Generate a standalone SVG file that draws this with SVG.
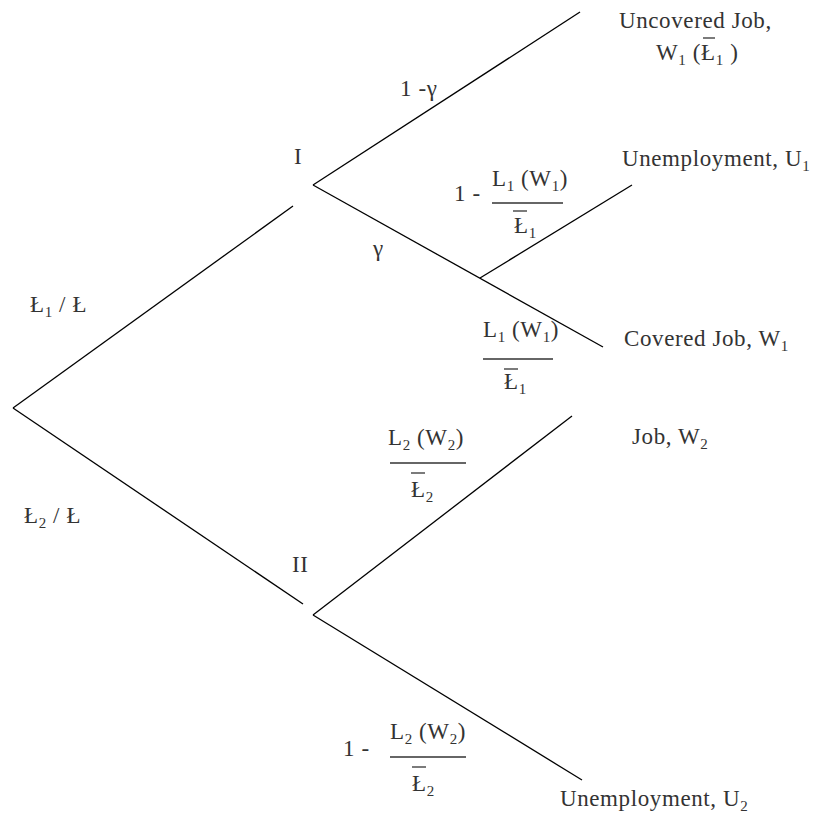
<svg xmlns="http://www.w3.org/2000/svg" width="821" height="819" viewBox="0 0 821 819">
<style>
text{font-family:"Liberation Serif","DejaVu Serif","Times New Roman",serif;font-size:23px;fill:#333;letter-spacing:0.6px}
.s{font-size:15px}
.e{stroke:#000;stroke-width:1.3;fill:none}
.b{stroke:#333;stroke-width:1.3}
</style>
<rect width="821" height="819" fill="#fff"/>
<g id="connectors">
<line class="e" x1="13" y1="408" x2="293" y2="206"/>
<line class="e" x1="13" y1="408" x2="303" y2="604"/>
<line class="e" x1="313" y1="185" x2="580" y2="12"/>
<line class="e" x1="313" y1="185" x2="603" y2="347"/>
<line class="e" x1="480" y1="278" x2="632" y2="185"/>
<line class="e" x1="313" y1="615" x2="572" y2="416"/>
<line class="e" x1="313" y1="615" x2="582" y2="780"/>
</g>
<g id="node-I"><text x="294" y="164">I</text></g>
<g id="node-II"><text x="292" y="572">II</text></g>
<g id="leaf-uncovered">
<text x="619" y="28">Uncovered Job,</text>
<text x="656" y="60">W<tspan class="s" dy="5">1</tspan><tspan dy="-5"> (Ł</tspan><tspan class="s" dy="5">1</tspan><tspan dy="-5">  )</tspan></text>
<line class="b" x1="703" y1="38" x2="715" y2="38"/>
</g>
<g id="leaf-unemp1"><text x="622" y="166">Unemployment, U<tspan class="s" dy="5">1</tspan></text></g>
<g id="leaf-covered"><text x="624" y="346">Covered Job, W<tspan class="s" dy="5">1</tspan></text></g>
<g id="leaf-job2"><text x="632" y="444">Job, W<tspan class="s" dy="5">2</tspan></text></g>
<g id="leaf-unemp2"><text x="560" y="806">Unemployment, U<tspan class="s" dy="5">2</tspan></text></g>
<g id="label-1-gamma"><text x="400" y="96">1 -γ</text></g>
<g id="label-gamma"><text x="373" y="256">γ</text></g>
<g id="label-L1L"><text x="30" y="312">Ł<tspan class="s" dy="5">1</tspan><tspan dy="-5"> / Ł</tspan></text></g>
<g id="label-L2L"><text x="24" y="523">Ł<tspan class="s" dy="5">2</tspan><tspan dy="-5"> / Ł</tspan></text></g>
<g id="label-unemp1-prob">
<text x="454" y="201">1 -</text>
<text x="492" y="186">L<tspan class="s" dy="5">1</tspan><tspan dy="-5"> (W</tspan><tspan class="s" dy="5">1</tspan><tspan dy="-5">)</tspan></text>
<line class="b" x1="492" y1="203" x2="563" y2="203"/>
<line class="b" x1="513" y1="211" x2="527" y2="211"/>
<text x="514" y="233">Ł<tspan class="s" dy="5">1</tspan></text>
</g>
<g id="label-covered-prob">
<text x="483" y="337">L<tspan class="s" dy="5">1</tspan><tspan dy="-5"> (W</tspan><tspan class="s" dy="5">1</tspan><tspan dy="-5">)</tspan></text>
<line class="b" x1="483" y1="359" x2="553" y2="359"/>
<line class="b" x1="504" y1="369" x2="518" y2="369"/>
<text x="504" y="389">Ł<tspan class="s" dy="5">1</tspan></text>
</g>
<g id="label-job2-prob">
<text x="388" y="445">L<tspan class="s" dy="5">2</tspan><tspan dy="-5"> (W</tspan><tspan class="s" dy="5">2</tspan><tspan dy="-5">)</tspan></text>
<line class="b" x1="390" y1="463" x2="466" y2="463"/>
<line class="b" x1="411" y1="473" x2="425" y2="473"/>
<text x="411" y="497">Ł<tspan class="s" dy="5">2</tspan></text>
</g>
<g id="label-unemp2-prob">
<text x="343" y="756">1 -</text>
<text x="390" y="739">L<tspan class="s" dy="5">2</tspan><tspan dy="-5"> (W</tspan><tspan class="s" dy="5">2</tspan><tspan dy="-5">)</tspan></text>
<line class="b" x1="390" y1="757" x2="466" y2="757"/>
<line class="b" x1="412" y1="767" x2="426" y2="767"/>
<text x="412" y="791">Ł<tspan class="s" dy="5">2</tspan></text>
</g>
</svg>
